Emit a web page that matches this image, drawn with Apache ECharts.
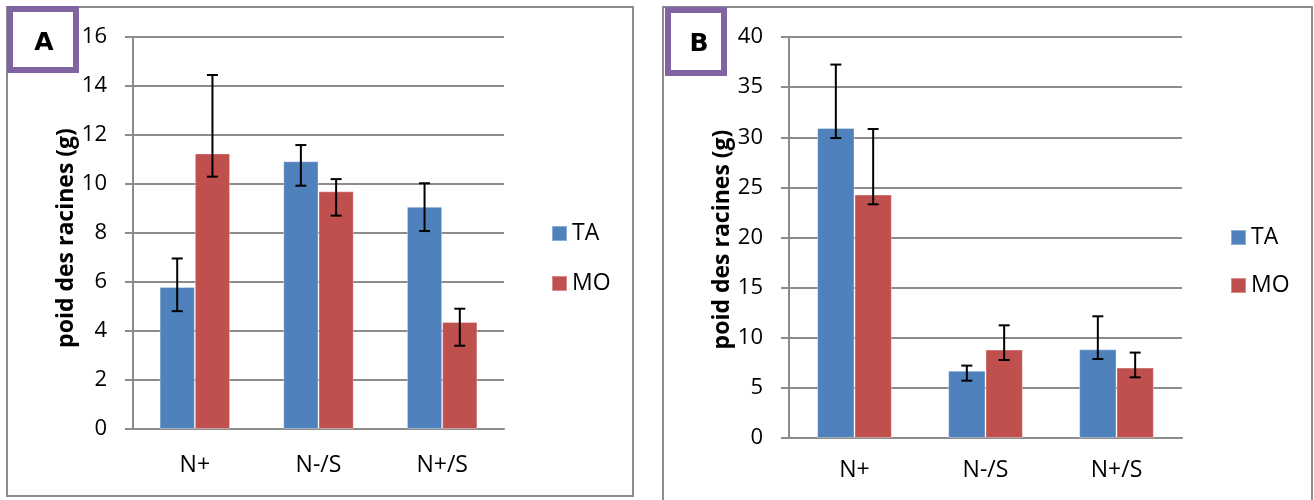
<!DOCTYPE html>
<html>
<head>
<meta charset="utf-8">
<script src="https://cdn.jsdelivr.net/npm/echarts@6/dist/echarts.min.js"></script>
<style>
  html, body { margin: 0; padding: 0; background: #fff; }
  #main { width: 1314px; height: 500px; }
</style>
</head>
<body>
<div id="main"></div>
<script>
// categories and series
const categories = ['N+', 'N-/S', 'N+/S'];
const seriesNames = ['TA', 'MO'];

// panel A values and error bars (+ / -)
const taA = [5.8, 10.93, 9.07];
const moA = [11.25, 9.7, 4.37];
const taAPlus = [1.16, 0.66, 0.96];
const taAMinus = [0.99, 1.0, 0.99];
const moAPlus = [3.2, 0.5, 0.54];
const moAMinus = [0.95, 0.99, 0.97];

// panel B values and error bars (+ / -)
const taB = [30.92, 6.72, 8.85];
const moB = [24.28, 8.82, 7.02];
const taBPlus = [6.33, 0.5, 3.29];
const taBMinus = [1.0, 1.0, 0.97];
const moBPlus = [6.54, 2.42, 1.5];
const moBMinus = [0.97, 1.04, 0.97];

// y axis ticks
const yMaxA = 16, yStepA = 2;
const yMaxB = 40, yStepB = 5;

const yName = 'poid des racines (g)';
const colors = ['#4f81bd', '#c0504d'];
const gridGray = '#8c8c8c';
const catGap = 0.43;
const font = 'Open Sans';

function errData(vals, plus, minus) {
  return vals.map((v, i) => [i, v - minus[i], v + plus[i]]);
}

function errSeries(vals, plus, minus, axis, side) {
  return {
    type: 'custom',
    xAxisIndex: axis,
    yAxisIndex: axis,
    z: 5,
    silent: true,
    encode: { x: 0, y: [1, 2] },
    data: errData(vals, plus, minus),
    renderItem: function (params, api) {
      const i = api.value(0);
      const lo = api.coord([i, api.value(1)]);
      const hi = api.coord([i, api.value(2)]);
      const cw = api.size([1, 0])[0];
      const bw = cw * (1 - catGap) / 2;
      const x = lo[0] + side * bw / 2;
      const h = 5.5;
      const st = { stroke: '#000', lineWidth: 2 };
      return {
        type: 'group',
        children: [
          { type: 'line', shape: { x1: x, y1: lo[1], x2: x, y2: hi[1] }, style: st },
          { type: 'line', shape: { x1: x - h, y1: hi[1], x2: x + h, y2: hi[1] }, style: st },
          { type: 'line', shape: { x1: x - h, y1: lo[1], x2: x + h, y2: lo[1] }, style: st }
        ]
      };
    }
  };
}

function barSeries(name, vals, axis, color) {
  return {
    name: name,
    type: 'bar',
    xAxisIndex: axis,
    yAxisIndex: axis,
    barGap: '0%',
    barCategoryGap: (catGap * 100) + '%',
    itemStyle: { color: color, borderColor: 'rgba(255,255,255,0.35)', borderWidth: 1 },
    data: vals
  };
}

function xAx(grid, margin) {
  return {
    type: 'category',
    gridIndex: grid,
    data: categories,
    axisLine: { lineStyle: { color: gridGray, width: 2 } },
    axisTick: { show: false },
    axisLabel: { color: '#000', fontSize: 23, fontFamily: font, margin: margin }
  };
}

function yAx(grid, max, step, pad) {
  return {
    type: 'value',
    gridIndex: grid,
    min: 0,
    max: max,
    interval: step,
    name: yName,
    nameLocation: 'middle',
    nameRotate: 90,
    nameGap: 55,
    nameTextStyle: { color: '#000', fontSize: 23, fontWeight: 'bold', fontFamily: font, padding: [0, pad, 0, 0] },
    axisLine: { show: true, lineStyle: { color: gridGray, width: 2 } },
    axisTick: { show: true, length: 8, lineStyle: { color: gridGray, width: 2 } },
    axisLabel: { color: '#000', fontSize: 22, fontFamily: font, margin: 26 },
    splitLine: { lineStyle: { color: gridGray, width: 2 } }
  };
}

const chart = echarts.init(document.getElementById('main'));
chart.setOption({
  animation: false,
  backgroundColor: '#fff',
  color: colors,
  grid: [
    { left: 133, top: 37, width: 371, height: 392 },
    { left: 789, top: 37, width: 393, height: 401 }
  ],
  legend: [
    {
      data: seriesNames, orient: 'vertical', left: 546, top: 217, itemGap: 27,
      itemWidth: 15, itemHeight: 15, icon: 'rect',
      textStyle: { color: '#000', fontSize: 23, fontFamily: font }
    },
    {
      data: seriesNames, orient: 'vertical', left: 1225, top: 221, itemGap: 25,
      itemWidth: 15, itemHeight: 15, icon: 'rect',
      textStyle: { color: '#000', fontSize: 23, fontFamily: font }
    }
  ],
  xAxis: [xAx(0, 25), xAx(1, 21)],
  yAxis: [yAx(0, yMaxA, yStepA, 10), yAx(1, yMaxB, yStepB, 4)],
  graphic: [
    { type: 'rect', shape: { x: 7, y: 7, width: 626, height: 489 }, style: { fill: 'none', stroke: gridGray, lineWidth: 2 }, z: -1 },
    { type: 'rect', shape: { x: 663, y: 7, width: 649, height: 520 }, style: { fill: 'none', stroke: gridGray, lineWidth: 2 }, z: -1 },
    { type: 'rect', shape: { x: 10, y: 9, width: 66, height: 61 }, style: { fill: '#fff', stroke: '#8064a2', lineWidth: 6 } },
    { type: 'text', x: 44, y: 43, style: { text: 'A', fill: '#000', font: 'bold 25px DejaVu Sans', textAlign: 'center', textVerticalAlign: 'middle' } },
    { type: 'rect', shape: { x: 668, y: 10, width: 56, height: 63 }, style: { fill: '#fff', stroke: '#8064a2', lineWidth: 6 } },
    { type: 'text', x: 699, y: 44, style: { text: 'B', fill: '#000', font: 'bold 25px DejaVu Sans', textAlign: 'center', textVerticalAlign: 'middle' } }
  ],
  series: [
    barSeries('TA', taA, 0, colors[0]),
    barSeries('MO', moA, 0, colors[1]),
    barSeries('TA', taB, 1, colors[0]),
    barSeries('MO', moB, 1, colors[1]),
    errSeries(taA, taAPlus, taAMinus, 0, -1),
    errSeries(moA, moAPlus, moAMinus, 0, 1),
    errSeries(taB, taBPlus, taBMinus, 1, -1),
    errSeries(moB, moBPlus, moBMinus, 1, 1)
  ]
});
</script>
</body>
</html>
